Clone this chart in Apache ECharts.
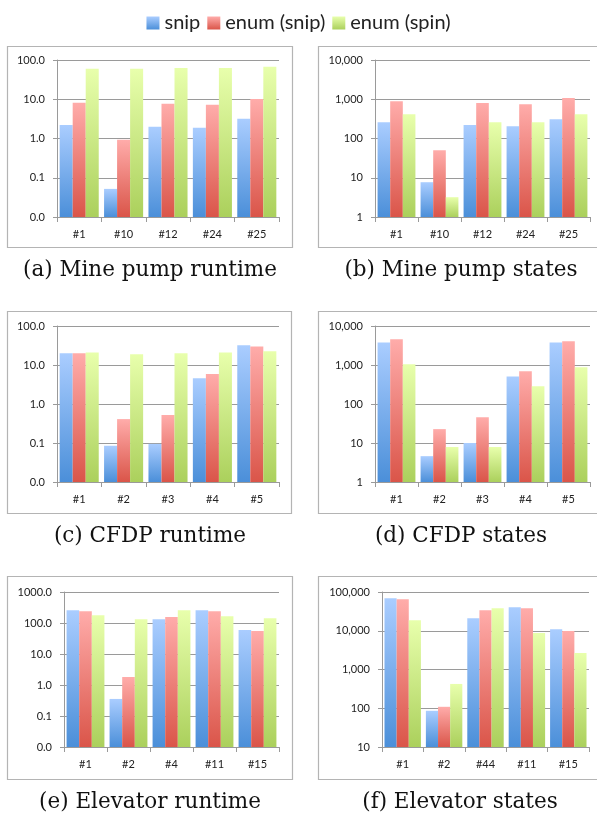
<!DOCTYPE html>
<html>
<head>
<meta charset="utf-8">
<script src="https://cdn.jsdelivr.net/npm/echarts@6/dist/echarts.min.js"></script>
<style>
html,body{margin:0;padding:0;background:#fff;}
#chart{width:597px;height:817px;}
</style>
</head>
<body>
<div id="chart"></div>
<script>
// ---- data ----
const seriesNames = ['snip', 'enum (snip)', 'enum (spin)'];

const minePumpCats = ['#1', '#10', '#12', '#24', '#25'];
const minePumpRuntimeSnip = [2.2, 0.052, 2.0, 1.87, 3.2];
const minePumpRuntimeEnumSnip = [8.1, 0.93, 7.7, 7.2, 10.2];
const minePumpRuntimeEnumSpin = [60, 60, 63, 63, 67];
const minePumpStatesSnip = [260, 7.7, 220, 205, 310];
const minePumpStatesEnumSnip = [890, 50, 800, 750, 1070];
const minePumpStatesEnumSpin = [415, 3.2, 260, 260, 415];

const cfdpCats = ['#1', '#2', '#3', '#4', '#5'];
const cfdpRuntimeSnip = [20, 0.085, 0.095, 4.6, 32];
const cfdpRuntimeEnumSnip = [20, 0.41, 0.52, 5.9, 30];
const cfdpRuntimeEnumSpin = [21, 19, 20, 21, 22.6];
const cfdpStatesSnip = [3800, 4.6, 10, 510, 3800];
const cfdpStatesEnumSnip = [4550, 22.7, 46, 690, 4050];
const cfdpStatesEnumSpin = [1040, 7.9, 7.9, 285, 870];

const elevatorRuntimeCats = ['#1', '#2', '#4', '#11', '#15'];
const elevatorRuntimeSnip = [257, 0.355, 132, 257, 59];
const elevatorRuntimeEnumSnip = [240, 1.8, 155, 240, 55];
const elevatorRuntimeEnumSpin = [178, 132, 257, 165, 142];

const elevatorStatesCats = ['#1', '#2', '#44', '#11', '#15'];
const elevatorStatesSnip = [69000, 86, 21000, 40500, 11000];
const elevatorStatesEnumSnip = [65000, 109, 34000, 38000, 9800];
const elevatorStatesEnumSpin = [18700, 424, 38000, 8700, 2650];

const captions = ['(a) Mine pump runtime', '(b) Mine pump states', '(c) CFDP runtime',
  '(d) CFDP states', '(e) Elevator runtime', '(f) Elevator states'];

// ---- panels (data references + axis ranges) ----
const panels = [
  {cats: minePumpCats, vals: [minePumpRuntimeSnip, minePumpRuntimeEnumSnip, minePumpRuntimeEnumSpin], min: 0.01, max: 100, kind: 'runtime'},
  {cats: minePumpCats, vals: [minePumpStatesSnip, minePumpStatesEnumSnip, minePumpStatesEnumSpin], min: 1, max: 10000, kind: 'states'},
  {cats: cfdpCats, vals: [cfdpRuntimeSnip, cfdpRuntimeEnumSnip, cfdpRuntimeEnumSpin], min: 0.01, max: 100, kind: 'runtime'},
  {cats: cfdpCats, vals: [cfdpStatesSnip, cfdpStatesEnumSnip, cfdpStatesEnumSpin], min: 1, max: 10000, kind: 'states'},
  {cats: elevatorRuntimeCats, vals: [elevatorRuntimeSnip, elevatorRuntimeEnumSnip, elevatorRuntimeEnumSpin], min: 0.01, max: 1000, kind: 'runtime'},
  {cats: elevatorStatesCats, vals: [elevatorStatesSnip, elevatorStatesEnumSnip, elevatorStatesEnumSpin], min: 10, max: 100000, kind: 'states'}
];

// ---- layout / style ----
const gridRects = [
  {left: 57, top: 60, width: 222, height: 157},
  {left: 375, top: 60, width: 215, height: 157},
  {left: 57, top: 326, width: 222, height: 156},
  {left: 375, top: 326, width: 215, height: 156},
  {left: 64, top: 592, width: 215, height: 155},
  {left: 382, top: 592, width: 207, height: 155}
];
const boxRects = [
  {x: 7.5, y: 46.5, w: 285, h: 201},
  {x: 318.5, y: 46.5, w: 285, h: 201},
  {x: 7.5, y: 311.5, w: 284, h: 202},
  {x: 318.5, y: 311.5, w: 285, h: 202},
  {x: 7.5, y: 576.5, w: 285, h: 203},
  {x: 318.5, y: 576.5, w: 285, h: 203}
];
const captionPos = [
  {x: 150, y: 270}, {x: 461, y: 270},
  {x: 150, y: 536}, {x: 461, y: 536},
  {x: 150, y: 802}, {x: 460, y: 802}
];

function grad(top, bottom) {
  return new echarts.graphic.LinearGradient(0, 0, 0, 1, [
    {offset: 0, color: top}, {offset: 1, color: bottom}
  ]);
}
const colors = [
  grad('#aacdff', '#4b8fd9'),
  grad('#ffacaa', '#da5549'),
  grad('#e8ffac', '#abd05c')
];

const gridColor = '#9a9a9a';
const labelFont = 'Lato, "Open Sans", sans-serif';

function fmt(kind) {
  return function (v) {
    if (kind === 'runtime') return (Math.round(v * 100) / 100).toFixed(1);
    return Math.round(v).toLocaleString('en-US');
  };
}

const grid = [], xAxis = [], yAxis = [], series = [], graphic = [];
panels.forEach(function (p, i) {
  grid.push(Object.assign({}, gridRects[i]));
  xAxis.push({
    type: 'category', gridIndex: i, data: p.cats,
    axisLine: {lineStyle: {color: gridColor, width: 1}},
    axisTick: {show: true, length: 5, lineStyle: {color: gridColor}},
    axisLabel: {color: '#222', fontFamily: labelFont, fontSize: 11, margin: 12}
  });
  yAxis.push({
    type: 'log', logBase: 10, gridIndex: i, min: p.min, max: p.max, interval: 1,
    startValue: p.min,
    axisLine: {show: true, lineStyle: {color: gridColor, width: 1}},
    axisTick: {show: true, length: 4, lineStyle: {color: gridColor}},
    splitLine: {show: true, lineStyle: {color: gridColor, width: 1}},
    axisLabel: {color: '#222', fontFamily: labelFont, fontSize: 11, margin: 12, formatter: fmt(p.kind)}
  });
  p.vals.forEach(function (arr, k) {
    series.push({
      type: 'bar', name: seriesNames[k], xAxisIndex: i, yAxisIndex: i,
      data: arr, barGap: '0%', barCategoryGap: '12%',
      itemStyle: {color: colors[k]}, animation: false
    });
  });
  const b = boxRects[i];
  graphic.push({
    type: 'rect', shape: {x: b.x, y: b.y, width: b.w, height: b.h}, z: -10, silent: true,
    style: {fill: '#fff', stroke: '#b4b4b4', lineWidth: 1.2}
  });
  graphic.push({
    type: 'text', x: captionPos[i].x, y: captionPos[i].y, silent: true,
    style: {text: captions[i], font: '21.5px "DejaVu Serif", serif', fill: '#111', align: 'center', verticalAlign: 'middle'}
  });
});

const chart = echarts.init(document.getElementById('chart'), null, {renderer: 'canvas'});
chart.setOption({
  animation: false,
  backgroundColor: '#fff',
  legend: {
    data: seriesNames, top: 8, left: 'center', icon: 'rect', itemWidth: 13, itemHeight: 13, itemGap: 7,
    textStyle: {fontFamily: labelFont, fontSize: 20, color: '#222'}
  },
  grid: grid, xAxis: xAxis, yAxis: yAxis, series: series, graphic: graphic
});
</script>
</body>
</html>
